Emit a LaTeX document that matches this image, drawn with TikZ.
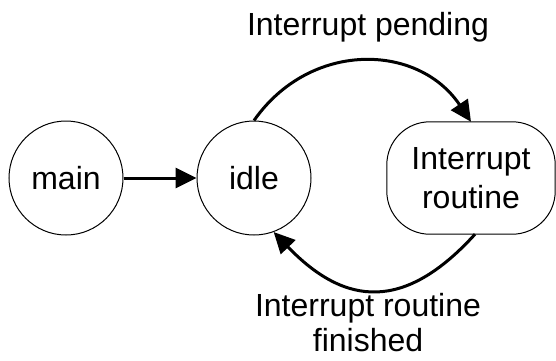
\documentclass[tikz,border=0pt]{standalone}
\usepackage{fontspec}
\setmainfont{Liberation Sans}
\usetikzlibrary{arrows.meta}
\begin{document}
\begin{tikzpicture}[x=1pt,y=-1pt,
  every node/.style={font=\fontsize{32}{40}\selectfont},
  state/.style={draw=black,line width=1pt,circle,minimum size=114pt,inner sep=0pt},
  routine/.style={rectangle,minimum width=168pt,minimum height=112pt,inner sep=0pt,align=center},
  frame/.style={draw=black,line width=1pt},
  flow/.style={draw=black,line width=3pt,-{Triangle[length=21pt,width=20pt]}},
  lbl/.style={align=center,inner sep=0pt}]
\useasboundingbox (0,0) rectangle (556,360);
\node[state] (main) at (66,178) {main};
\node[state] (idle) at (254,178) {idle};
\node[routine] (ir) at (471,178) {Interrupt\\[-1pt]routine};
% rounded outline of the routine box (y axis points down here)
\draw[frame] ([xshift=43pt]ir.north west) -- ([xshift=-43pt]ir.north east)
  arc[start angle=270,end angle=360,radius=43]
  -- ([yshift=43pt]ir.south east)
  arc[start angle=0,end angle=90,radius=43]
  -- ([xshift=43pt]ir.south west)
  arc[start angle=90,end angle=180,radius=43]
  -- ([yshift=-43pt]ir.north west)
  arc[start angle=180,end angle=270,radius=43] -- cycle;
\node[lbl] (lp) at (368,27) {Interrupt pending};
\node[lbl,font=\fontsize{32}{35}\selectfont] (lf) at (368,323) {Interrupt routine\\finished};
\draw[flow] (main) -- (idle);
\draw[flow] (idle.north) .. controls +(56,-80) and +(-53,-79) .. (ir.north);
\draw[flow] ([xshift=4pt]ir.south) .. controls +(-70,77) and +(72,75) .. (idle.-70);
\end{tikzpicture}
\end{document}
